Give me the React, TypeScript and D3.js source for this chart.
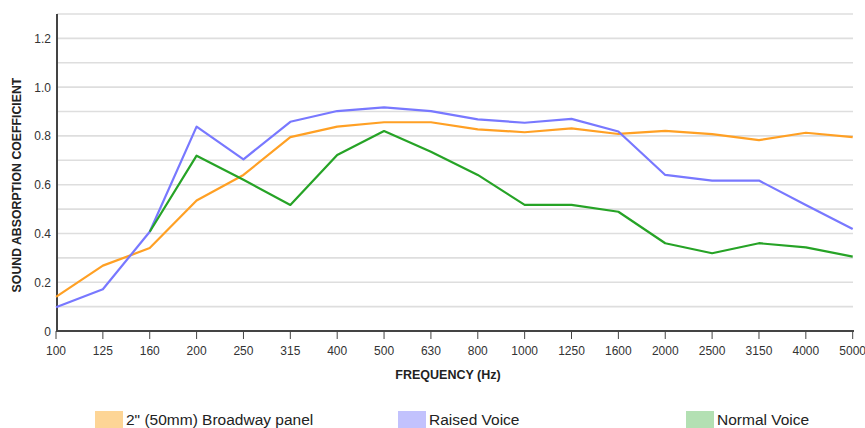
import React from "react";
import * as d3 from "d3";

const categories = ["100","125","160","200","250","315","400","500","630","800","1000","1250","1600","2000","2500","3150","4000","5000"];
const broadway = [0.14,0.268,0.34,0.535,0.64,0.795,0.838,0.856,0.856,0.827,0.815,0.831,0.808,0.821,0.807,0.783,0.813,0.795];
const raised = [0.097,0.171,0.407,0.838,0.704,0.858,0.902,0.917,0.902,0.868,0.854,0.87,0.818,0.64,0.617,0.617,0.517,0.418];
const normal: (number | null)[] = [null,null,0.407,0.719,0.62,0.517,0.722,0.82,0.735,0.64,0.517,0.517,0.489,0.36,0.319,0.36,0.343,0.305];
const yTicks = [0,0.2,0.4,0.6,0.8,1.0,1.2];
const yTickLabels = ["0","0.2","0.4","0.6","0.8","1.0","1.2"];
const gridValues = [0.1,0.2,0.3,0.4,0.5,0.6,0.7,0.8,0.9,1.0,1.1,1.2,1.3];

const seriesNames = ["2\" (50mm) Broadway panel","Raised Voice","Normal Voice"];
const lineColors = ["#ffa024","#7878ff","#26a326"];
const swatchColors = ["#fdd596","#c2c2fd","#b3e0b3"];

export default function App() {
  const W = 865, H = 428;
  const x = d3.scalePoint<string>().domain(categories).range([56, 852.7]);
  const y = d3.scaleLinear().domain([0, 1.3]).range([331, 14]);
  const font = "Arial, 'Liberation Sans', sans-serif";

  const line = d3.line<number | null>()
    .defined((d) => d !== null)
    .x((_, i) => x(categories[i]) as number)
    .y((d) => y(d as number));

  const series = [broadway, raised, normal];
  const legendX = [95, 398, 686];

  return (
    <svg width={W} height={H} style={{ position: "absolute", left: 0, top: 0, background: "#fff" }} fontFamily={font}>
      {gridValues.map((v) => (
        <line key={v} x1={57} x2={853} y1={y(v)} y2={y(v)} stroke="#dedede" strokeWidth={1.6} />
      ))}
      <line x1={57} x2={57} y1={y(1.3)} y2={332} stroke="#444" strokeWidth={2} />
      <line x1={56} x2={854} y1={331} y2={331} stroke="#444" strokeWidth={2} />
      {categories.map((c) => (
        <g key={c}>
          <line x1={x(c)} x2={x(c)} y1={331} y2={339} stroke="#444" strokeWidth={1} />
          <text x={x(c)} y={355} fontSize={12} textAnchor="middle" fill="#333">{c}</text>
        </g>
      ))}
      {yTicks.map((v, i) => (
        <text key={v} x={51} y={y(v) + 4.5} fontSize={12} textAnchor="end" fill="#333">{yTickLabels[i]}</text>
      ))}
      <text x={448} y={379} fontSize={12.5} fontWeight="bold" textAnchor="middle" fill="#222">FREQUENCY (Hz)</text>
      <text transform={`translate(21,185) rotate(-90)`} fontSize={12.3} fontWeight="bold" textAnchor="middle" fill="#222">SOUND ABSORPTION COEFFICIENT</text>
      {series.map((s, i) => (
        <path key={i} d={line(s as (number | null)[]) || ""} fill="none" stroke={lineColors[i]} strokeWidth={2.2} strokeLinejoin="round" />
      ))}
      {seriesNames.map((n, i) => (
        <g key={n}>
          <rect x={legendX[i]} y={411} width={28} height={17} fill={swatchColors[i]} />
          <text x={legendX[i] + 31} y={424.5} fontSize={15.5} fill="#222">{n}</text>
        </g>
      ))}
    </svg>
  );
}
